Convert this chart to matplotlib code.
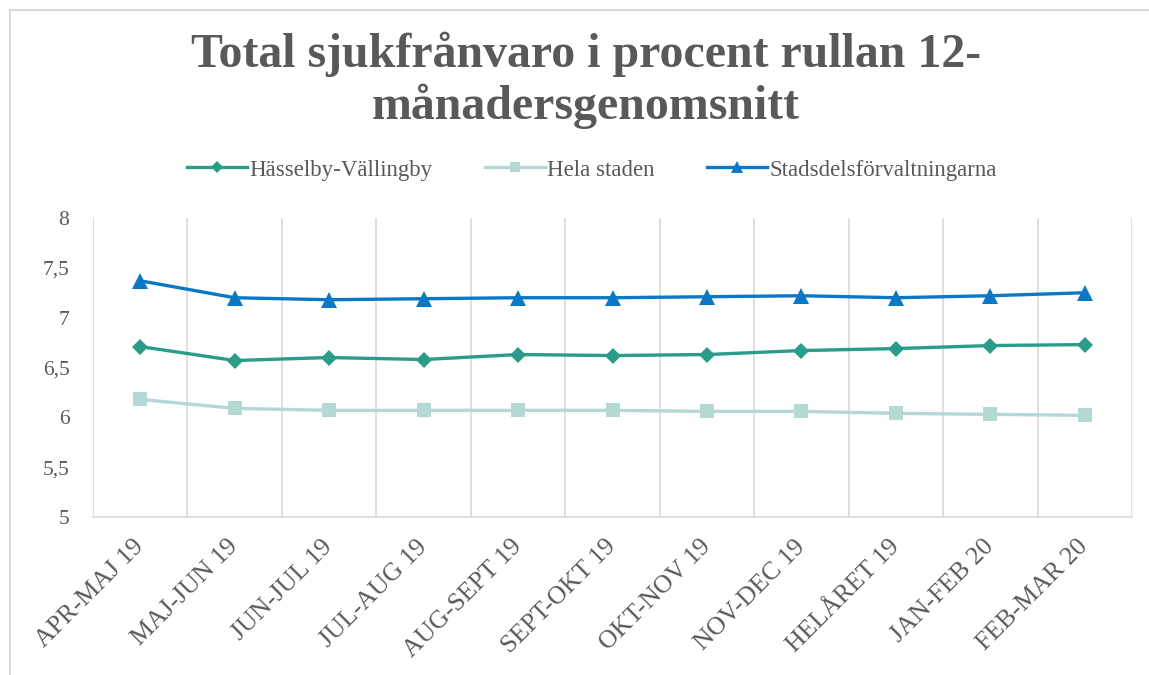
import matplotlib
matplotlib.use("Agg")
import matplotlib.pyplot as plt
from matplotlib.patches import Rectangle

# Rolling 12-month sick-leave share, per period
periods = ["APR-MAJ 19", "MAJ-JUN 19", "JUN-JUL 19", "JUL-AUG 19", "AUG-SEPT 19",
           "SEPT-OKT 19", "OKT-NOV 19", "NOV-DEC 19", "HELÅRET 19", "JAN-FEB 20",
           "FEB-MAR 20"]
hasselby = [6.71, 6.57, 6.60, 6.58, 6.63, 6.62, 6.63, 6.67, 6.69, 6.72, 6.73]
hela_staden = [6.18, 6.09, 6.07, 6.07, 6.07, 6.07, 6.06, 6.06, 6.04, 6.03, 6.02]
sdf = [7.37, 7.20, 7.18, 7.19, 7.20, 7.20, 7.21, 7.22, 7.20, 7.22, 7.25]

yticks = [5, 5.5, 6, 6.5, 7, 7.5, 8]
ytick_labels = ["5", "5,5", "6", "6,5", "7", "7,5", "8"]

series_names = ["Hässelby-Vällingby", "Hela staden", "Stadsdelsförvaltningarna"]
colors = ["#2A9D8A", "#B4D8D3", "#0A78C4"]
markers = ["D", "s", "^"]
msizes = [8.5, 10.5, 11.5]

TEXT = "#595959"
SERIF = ["Liberation Serif", "DejaVu Serif"]
plt.rcParams["font.family"] = SERIF

W, H = 1149, 675
fig = plt.figure(figsize=(W / 100, H / 100), dpi=100)
fig.patch.set_facecolor("white")

# chart frame
fig.patches.append(Rectangle((10 / W, -0.01), 1.02, (H - 10) / H + 0.01,
                             transform=fig.transFigure, fill=False,
                             edgecolor="#D9D9D9", linewidth=1.5))

ax = fig.add_axes([93 / W, (H - 517) / H, (1132 - 93) / W, (517 - 218) / H])
x = list(range(len(periods)))
for vals, name, c, m, ms in zip([hasselby, hela_staden, sdf], series_names,
                                colors, markers, msizes):
    ax.plot(x, vals, color=c, linewidth=2.4, marker=m, markersize=ms,
            markeredgewidth=0, label=name, zorder=3)

ax.set_xlim(-0.5, len(periods) - 0.5)
ax.set_ylim(5, 8)
ax.set_yticks(yticks)
ax.set_yticklabels(ytick_labels)
ax.set_xticks(x)
ax.set_xticklabels(periods, rotation=45, ha="right", va="center",
                   rotation_mode="anchor")

# vertical gridlines between categories
ax.set_xticks([i - 0.5 for i in range(len(periods) + 1)], minor=True)
ax.grid(True, which="minor", axis="x", color="#D9D9D9", linewidth=1.2)
ax.tick_params(axis="both", which="both", length=0)
ax.tick_params(axis="y", labelsize=15.5, labelcolor=TEXT, pad=17)
ax.tick_params(axis="x", labelsize=18.5, labelcolor=TEXT, pad=19)
for s in ["top", "right", "left"]:
    ax.spines[s].set_visible(False)
ax.spines["bottom"].set_color("#D9D9D9")
ax.spines["bottom"].set_linewidth(1.2)

fig.text(586 / W, 1 - 119 / H, "Total sjukfrånvaro i procent rullan 12-\nmånadersgenomsnitt",
         ha="center", va="baseline", fontsize=34.5, fontweight="bold",
         color=TEXT, linespacing=1.2, multialignment="center")

handles, labels = ax.get_legend_handles_labels()
fig.legend(handles, labels, loc="center", bbox_to_anchor=(592 / W, 1 - 170 / H),
           ncol=3, frameon=False, fontsize=16.5, labelcolor=TEXT,
           handlelength=2.6, handletextpad=0.1, columnspacing=2.3,
           markerscale=0.7)

fig.savefig("out.png", dpi=100, facecolor="white")
